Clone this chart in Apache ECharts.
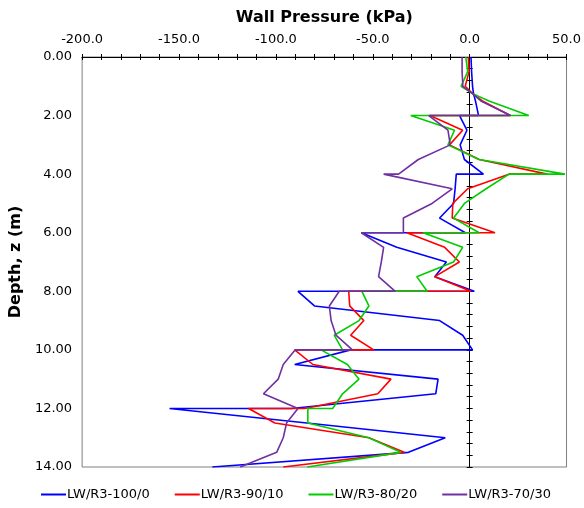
<!DOCTYPE html>
<html>
<head>
<meta charset="utf-8">
<script src="https://cdn.jsdelivr.net/npm/echarts@6/dist/echarts.min.js"></script>
<style>
  html, body { margin: 0; padding: 0; background: #fff; }
  #chart { width: 584px; height: 508px; }
</style>
</head>
<body>
<div id="chart"></div>
<script>
// depth (m) of each point, shared by all four series
var depth = [0, 0.5, 1.0, 1.25, 1.5, 2.0, 2.0, 2.5, 3.0, 3.5, 4.0, 4.0, 4.5, 5.0, 5.5, 6.0, 6.0,
  6.5, 7.0, 7.5, 8.0, 8.0, 8.5, 9.0, 9.5, 10.0, 10.0, 10.5, 11.0, 11.5, 12.0, 12.0, 12.5, 13.0, 13.5, 14.0];

// wall pressure (kPa)
var lw100 = [0.7, 1.0, 1.5, 2.0, 3.0, 4.6, -5.2, -1.4, -4.9, -2.7, 7.1, -6.9, -7.5, -8.3, -15.5, -2.2, -55.9,
  -37.6, -12.0, -18.0, 2.4, -88.6, -80.1, -15.5, -3.6, 1.5, -61.4, -90.3, -16.3, -17.5, -92.0, -154.9, -84.0, -12.6, -31.6, -132.8];
var lw90 = [-0.7, -0.3, -2.3, 1.5, 6.6, 21.0, -20.5, -3.6, -10.4, 4.9, 40.0, 20.3, -1.0, -8.7, -9.0, 13.1, -32.4,
  -12.9, -5.3, -18.0, 0.7, -62.4, -61.9, -54.6, -61.4, -49.5, -90.3, -80.9, -40.6, -47.4, -85.0, -114.1, -100.5, -52.0, -33.8, -96.2];
var lw80 = [-2.0, -1.0, -4.4, 1.5, 10.0, 30.5, -30.4, -7.8, -11.2, 4.9, 49.2, 20.3, 8.5, -2.7, -8.3, 4.9, -24.0,
  -3.6, -8.3, -27.3, -21.9, -55.6, -52.0, -57.1, -69.9, -65.6, -76.7, -63.1, -57.1, -65.6, -70.7, -83.5, -83.5, -52.0, -35.5, -83.8];
var lw70 = [-3.9, -3.9, -3.5, 1.5, 5.8, 21.1, -21.1, -11.2, -10.0, -26.5, -36.7, -44.4, -9.0, -19.4, -34.2, -34.2, -55.9,
  -44.4, -45.6, -47.0, -38.4, -67.3, -72.4, -71.5, -69.0, -60.5, -90.0, -96.2, -98.8, -106.4, -88.6, -88.6, -94.5, -96.2, -99.6, -118.4];

var names = ['LW/R3-100/0', 'LW/R3-90/10', 'LW/R3-80/20', 'LW/R3-70/30'];
var colors = ['#0000ff', '#ff0000', '#00cc00', '#7030a0'];
var values = [lw100, lw90, lw80, lw70];

var font = 'DejaVu Sans';

function pairs(vals) {
  var out = [];
  for (var i = 0; i < vals.length; i++) {
    out.push([vals[i], depth[i]]);
  }
  return out;
}

var series = names.map(function (n, i) {
  return {
    name: n,
    type: 'line',
    data: pairs(values[i]),
    showSymbol: false,
    symbol: 'none',
    lineStyle: { color: colors[i], width: 1.6 },
    itemStyle: { color: colors[i] },
    xAxisIndex: 0,
    yAxisIndex: 0
  };
});

function xAxisBase(extra) {
  var a = {
    type: 'value',
    position: 'top',
    min: -200,
    max: 50,
    interval: 50,
    axisLine: { show: true, lineStyle: { color: '#000', width: 1 } },
    axisTick: { show: true, length: 3, lineStyle: { color: '#000' } },
    minorTick: { show: true, splitNumber: 5, length: 3, lineStyle: { color: '#000' } },
    splitLine: { show: false },
    minorSplitLine: { show: false }
  };
  for (var k in extra) a[k] = extra[k];
  return a;
}

function yAxisBase(extra) {
  var a = {
    type: 'value',
    position: 'left',
    inverse: true,
    min: 0,
    max: 14,
    interval: 2,
    axisLine: { show: true, lineStyle: { color: '#000', width: 1 } },
    axisTick: { show: true, length: 3, lineStyle: { color: '#000' } },
    minorTick: { show: true, splitNumber: 5, length: 3, lineStyle: { color: '#000' } },
    splitLine: { show: false },
    minorSplitLine: { show: false }
  };
  for (var k in extra) a[k] = extra[k];
  return a;
}

var chart = echarts.init(document.getElementById('chart'), null, { renderer: 'canvas' });

chart.setOption({
  animation: false,
  textStyle: { fontFamily: font },
  grid: {
    left: 77,
    right: 15,
    top: 57,
    bottom: 41,
    show: true,
    borderColor: '#7f7f7f',
    borderWidth: 1,
    backgroundColor: 'transparent'
  },
  legend: {
    bottom: 7,
    left: 41,
    padding: 0,
    itemGap: 25,
    itemWidth: 25,
    itemHeight: 2,
    icon: 'rect',
    textStyle: { fontFamily: font, fontSize: 13, color: '#000', padding: [0, 0, 0, -4] },
    data: names
  },
  xAxis: [
    xAxisBase({
      name: 'Wall Pressure (kPa)',
      nameLocation: 'middle',
      nameGap: 31,
      nameTextStyle: { fontFamily: font, fontSize: 16, fontWeight: 'bold', color: '#000' },
      axisTick: { show: true, inside: false, length: 3, lineStyle: { color: '#000' } },
      minorTick: { show: true, splitNumber: 5, length: 3, lineStyle: { color: '#000' } },
      axisLabel: {
        margin: 11,
        fontFamily: font,
        fontSize: 13,
        color: '#000',
        formatter: function (v) { return v.toFixed(1); }
      }
    }),
    xAxisBase({
      axisLabel: { show: false },
      axisTick: { show: true, inside: true, length: 3, lineStyle: { color: '#000' } }
    })
  ],
  yAxis: [
    yAxisBase({
      name: 'Depth, z (m)',
      nameLocation: 'middle',
      nameGap: 56,
      nameRotate: 90,
      nameTextStyle: { fontFamily: font, fontSize: 16, fontWeight: 'bold', color: '#000' },
      axisTick: { show: true, inside: false, length: 3, lineStyle: { color: '#000' } },
      axisLabel: {
        margin: 10,
        fontFamily: font,
        fontSize: 13,
        color: '#000',
        formatter: function (v) { return v.toFixed(2); }
      }
    }),
    yAxisBase({
      axisLabel: { show: false },
      axisTick: { show: true, inside: true, length: 3, lineStyle: { color: '#000' } }
    })
  ],
  series: series
});
</script>
</body>
</html>
